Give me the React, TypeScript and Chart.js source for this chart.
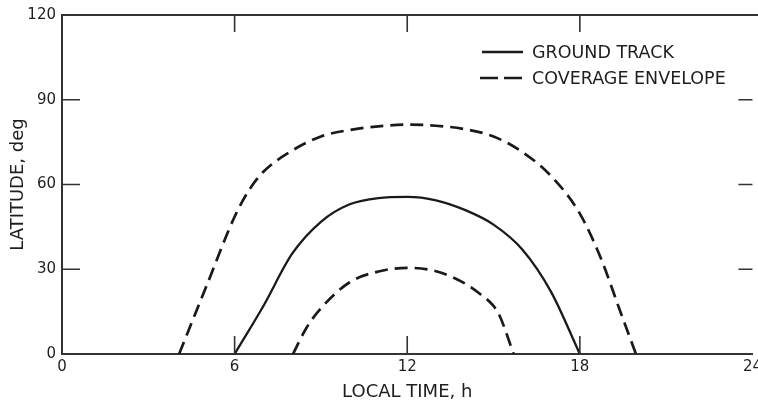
import React, { useEffect, useRef } from "react";
import { Chart, registerables } from "chart.js";

Chart.register(...registerables);

// ---- data ----
const xTicks = [0, 6, 12, 18, 24];
const yTicks = [0, 30, 60, 90, 120];

const groundTrackX = [6, 7, 8, 9, 10, 11, 12, 13, 14, 15, 16, 17, 18];
const groundTrackY = [0, 17, 35.5, 46.8, 53, 55.2, 55.6, 54.4, 51, 45.8, 37, 22, 0];

const outerEnvelopeX = [4.07, 5, 6, 6.5, 7, 8, 9, 10, 11, 12, 13, 14, 15, 16, 17, 18, 18.75, 19.4, 19.95];
const outerEnvelopeY = [0, 23.5, 48.6, 58, 64.5, 72, 77, 79.3, 80.6, 81.2, 80.8, 79.6, 77, 71.5, 63, 49.7, 33.4, 15.2, 0];

const innerEnvelopeX = [8.03, 8.5, 9, 10, 11, 12, 13, 14, 14.5, 15, 15.2, 15.7];
const innerEnvelopeY = [0, 9.3, 16.2, 25.4, 29.2, 30.5, 29.3, 25, 21.5, 17, 13.8, 0];

const legendLabels = ["GROUND TRACK", "COVERAGE ENVELOPE"];
const xTitle = "LOCAL TIME, h";
const yTitle = "LATITUDE, deg";

const INK = "#1a1a1a";
const TEXT = "#1e1e1e";
const FONT = "'DejaVu Sans', sans-serif";

const toPoints = (xs: number[], ys: number[]) => xs.map((x, i) => ({ x, y: ys[i] }));

const frameTicks = {
  id: "frameTicks",
  afterDatasetsDraw(chart: any) {
    const { ctx, chartArea } = chart;
    const xs = chart.scales.x;
    const ys = chart.scales.y;
    const { left, right, top, bottom } = chartArea;
    ctx.save();
    ctx.strokeStyle = "#333";
    ctx.lineWidth = 1.8;
    ctx.beginPath();
    ctx.moveTo(left, top);
    ctx.lineTo(chart.width, top);
    ctx.stroke();
    ctx.lineWidth = 1.6;
    xTicks.forEach((v) => {
      if (v === xTicks[0] || v === xTicks[xTicks.length - 1]) return;
      const px = xs.getPixelForValue(v);
      ctx.beginPath();
      ctx.moveTo(px, bottom);
      ctx.lineTo(px, bottom - 18);
      ctx.moveTo(px, top);
      ctx.lineTo(px, top + 17);
      ctx.stroke();
    });
    yTicks.forEach((v) => {
      if (v === yTicks[0] || v === yTicks[yTicks.length - 1]) return;
      const py = ys.getPixelForValue(v);
      ctx.beginPath();
      ctx.moveTo(left, py);
      ctx.lineTo(left + 18, py);
      ctx.moveTo(right, py);
      ctx.lineTo(right - 14, py);
      ctx.stroke();
    });
    ctx.restore();
  },
};

const customLegend = {
  id: "customLegend",
  afterDraw(chart: any) {
    const { ctx } = chart;
    ctx.save();
    ctx.strokeStyle = INK;
    ctx.lineWidth = 2.4;
    ctx.fillStyle = TEXT;
    ctx.font = `17.5px ${FONT}`;
    ctx.textBaseline = "middle";
    ctx.textAlign = "left";
    const x0 = 482;
    const x1 = 523;
    const rows = [52, 78];
    ctx.beginPath();
    ctx.setLineDash([]);
    ctx.moveTo(x0, rows[0]);
    ctx.lineTo(x1, rows[0]);
    ctx.stroke();
    ctx.beginPath();
    ctx.setLineDash([18, 6]);
    ctx.moveTo(x0 - 2, rows[1]);
    ctx.lineTo(x1, rows[1]);
    ctx.stroke();
    ctx.setLineDash([]);
    ctx.fillText(legendLabels[0], 532, rows[0] + 1);
    ctx.fillText(legendLabels[1], 532, rows[1] + 1);
    ctx.restore();
  },
};

export default function App() {
  const ref = useRef<HTMLCanvasElement | null>(null);

  useEffect(() => {
    if (!ref.current) return;
    const lineBase = {
      borderColor: INK,
      pointRadius: 0,
      fill: false,
      cubicInterpolationMode: "monotone" as const,
      tension: 0.4,
    };
    const chart = new Chart(ref.current, {
      type: "line",
      data: {
        datasets: [
          {
            ...lineBase,
            label: legendLabels[0],
            data: toPoints(groundTrackX, groundTrackY),
            borderWidth: 2.3,
          },
          {
            ...lineBase,
            label: legendLabels[1],
            data: toPoints(outerEnvelopeX, outerEnvelopeY),
            borderWidth: 2.7,
            borderDash: [13, 7],
          },
          {
            ...lineBase,
            label: legendLabels[1] + " (inner)",
            data: toPoints(innerEnvelopeX, innerEnvelopeY),
            borderWidth: 2.7,
            borderDash: [13, 7],
          },
        ],
      },
      options: {
        responsive: false,
        animation: false,
        layout: { padding: { top: 13, left: 0, right: 0, bottom: 0 } },
        plugins: {
          legend: { display: false },
          tooltip: { enabled: false },
        },
        scales: {
          x: {
            type: "linear",
            min: xTicks[0],
            max: xTicks[xTicks.length - 1],
            afterBuildTicks: (s: any) => {
              s.ticks = xTicks.map((v) => ({ value: v }));
            },
            afterFit: (s: any) => {
              s.height = 58;
            },
            grid: { display: true, drawOnChartArea: false, drawTicks: false },
            border: { display: true, color: "#333", width: 2 },
            ticks: {
              padding: 4,
              color: TEXT,
              font: { family: FONT, size: 15 },
              maxRotation: 0,
              autoSkip: false,
            },
            title: {
              display: true,
              text: xTitle,
              color: TEXT,
              font: { family: FONT, size: 18 },
              padding: { top: 0, bottom: 9 },
            },
          },
          y: {
            type: "linear",
            min: yTicks[0],
            max: yTicks[yTicks.length - 1],
            afterBuildTicks: (s: any) => {
              s.ticks = yTicks.map((v) => ({ value: v }));
            },
            afterFit: (s: any) => {
              s.width = 62;
            },
            grid: { display: true, drawOnChartArea: false, drawTicks: false },
            border: { display: true, color: "#333", width: 2 },
            ticks: {
              padding: 6,
              color: TEXT,
              font: { family: FONT, size: 15 },
              autoSkip: false,
            },
            title: {
              display: true,
              text: yTitle,
              color: TEXT,
              font: { family: FONT, size: 18 },
              padding: { top: 8, bottom: 0 },
            },
          },
        },
      },
      plugins: [frameTicks, customLegend],
    });
    return () => chart.destroy();
  }, []);

  return (
    <div
      style={{
        position: "fixed",
        left: 0,
        top: 0,
        width: 758,
        height: 412,
        overflow: "hidden",
        background: "#fff",
      }}
    >
      <canvas ref={ref} width={766} height={412} style={{ width: 766, height: 412, display: "block" }} />
    </div>
  );
}
